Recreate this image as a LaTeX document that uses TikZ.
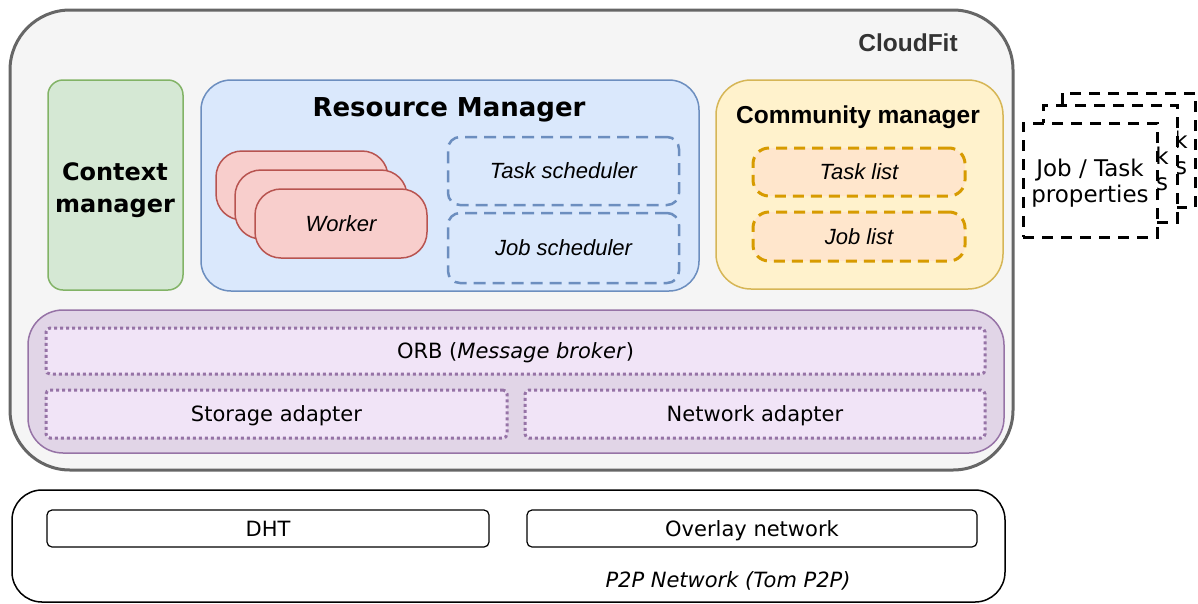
\documentclass[tikz,border=0pt]{standalone}
\usepackage{fontspec}
\setmainfont{DejaVu Sans}
\newfontfamily\lib{Liberation Sans}
\definecolor{outerfill}{HTML}{F5F5F5}
\definecolor{outerdraw}{HTML}{666666}
\definecolor{titlegray}{HTML}{333333}
\definecolor{gfill}{HTML}{D5E8D4}
\definecolor{gdraw}{HTML}{82B366}
\definecolor{bfill}{HTML}{DAE8FC}
\definecolor{bdraw}{HTML}{6C8EBF}
\definecolor{rfill}{HTML}{F8CECC}
\definecolor{rdraw}{HTML}{B85450}
\definecolor{yfill}{HTML}{FFF2CC}
\definecolor{ydraw}{HTML}{D6B656}
\definecolor{ofill}{HTML}{FFE6CC}
\definecolor{odraw}{HTML}{D79B00}
\definecolor{pfill}{HTML}{E1D5E7}
\definecolor{pdraw}{HTML}{9673A6}
\definecolor{plight}{HTML}{F1E4F7}
\tikzset{
  sz/.style 2 args={minimum width=#1, minimum height=#2, inner sep=0pt, outer sep=0pt},
  boxbase/.style={draw, rectangle, align=center},
  outerbox/.style={boxbase, draw=outerdraw, fill=outerfill, line width=3pt, rounded corners=60pt},
  ctxbox/.style={boxbase, draw=gdraw, fill=gfill, line width=1.5pt, rounded corners=15pt},
  resbox/.style={boxbase, draw=bdraw, fill=bfill, line width=1.5pt, rounded corners=30pt},
  workbox/.style={boxbase, draw=rdraw, fill=rfill, line width=1.5pt, rounded corners=26pt},
  schedbox/.style={boxbase, draw=bdraw, line width=2.5pt, dash pattern=on 12pt off 7pt, rounded corners=12pt},
  combox/.style={boxbase, draw=ydraw, fill=yfill, line width=1.5pt, rounded corners=35pt},
  listbox/.style={boxbase, draw=odraw, fill=ofill, line width=3pt, dash pattern=on 11pt off 7pt, rounded corners=16pt},
  orbouter/.style={boxbase, draw=pdraw, fill=pfill, line width=1.5pt, rounded corners=35pt},
  orbbox/.style={boxbase, draw=pdraw, fill=plight, line width=3pt, dash pattern=on 3pt off 3pt, rounded corners=4pt},
  p2pbox/.style={boxbase, draw=black, line width=1.5pt, rounded corners=30pt},
  p2pin/.style={boxbase, draw=black, fill=white, line width=1.2pt, rounded corners=5pt},
  propbox/.style={boxbase, draw=black, fill=white, line width=3pt, dash pattern=on 11pt off 8pt},
  boldlib/.style={font=\lib\bfseries\fontsize{24.5}{29}\selectfont, text depth=0pt},
  boldvj/.style={font=\bfseries\fontsize{24}{32}\selectfont, align=center},
  itlib/.style={font=\lib\itshape\fontsize{22}{26}\selectfont, text depth=0pt},
  plain/.style={font=\fontsize{21}{25}\selectfont, text depth=0pt},
  plainit/.style={font=\itshape\fontsize{21}{25}\selectfont, text depth=0pt},
  proptext/.style={font=\fontsize{23}{26}\selectfont, align=center, inner sep=0pt},
}
\begin{document}
\begin{tikzpicture}[x=1pt, y=-1pt]
\useasboundingbox (0,0) rectangle (1198,603);
% CloudFit container
\node[outerbox, sz={1003pt}{460pt}] (cloudfit) at (511.5,240) {};
\node[boldlib, text=titlegray] (cloudfitlbl) at (908,43) {CloudFit};
% Context manager
\node[ctxbox, sz={135pt}{210pt}] (ctx) at (115.5,185) {};
\node[boldvj] (ctxlbl) at (115,190) {Context\\manager};
% Resource manager
\node[resbox, sz={498pt}{211pt}] (res) at (450,185.5) {};
\node[font=\bfseries\fontsize{26}{30}\selectfont, text depth=0pt] (reslbl) at (449,107) {Resource Manager};
\node[workbox, sz={172pt}{69pt}] (w1) at (302,185.5) {};
\node[workbox, sz={172pt}{69pt}] (w2) at (321,204.5) {};
\node[workbox, sz={172pt}{69pt}, itlib] (w3) at (341,223.5) {Worker};
\node[schedbox, sz={231pt}{68pt}, itlib] (tsched) at (563.5,171) {Task scheduler};
\node[schedbox, sz={231pt}{70pt}, itlib] (jsched) at (563.5,248) {Job scheduler};
% Community manager
\node[combox, sz={287pt}{209pt}] (com) at (859.5,184.5) {};
\node[boldlib, text=black] (comlbl) at (858,115) {Community manager};
\node[listbox, sz={212pt}{48pt}, itlib] (tlist) at (859,172) {Task list};
\node[listbox, sz={212pt}{49pt}, itlib] (jlist) at (859,236.5) {Job list};
% ORB layer
\node[orbouter, sz={976pt}{143pt}] (orbl) at (516,381.5) {};
\node[orbbox, sz={939pt}{46pt}, plain] (orb) at (515.5,351) {ORB (\textit{Message broker})};
\node[orbbox, sz={461pt}{48pt}, plain] (stor) at (276.5,414) {Storage adapter};
\node[orbbox, sz={460pt}{48pt}, plain] (net) at (755,414) {Network adapter};
% P2P network
\node[p2pbox, sz={993pt}{112pt}] (p2p) at (508.5,546) {};
\node[p2pin, sz={442pt}{37pt}, plain] (dht) at (268,528.5) {DHT};
\node[p2pin, sz={450pt}{37pt}, plain] (overlay) at (752,528.5) {Overlay network};
\node[plainit] (p2plbl) at (728,580) {P2P Network (Tom P2P)};
% Job / Task properties stack
\node[propbox, sz={133pt}{114pt}] (prop3) at (1128.5,150) {};
\node[proptext] (prop3lbl) at (1181,153) {k\\s};
\node[propbox, sz={134pt}{117pt}] (prop2) at (1110,163.5) {};
\node[proptext] (prop2lbl) at (1162,169) {k\\s};
\node[propbox, sz={134pt}{114pt}] (prop1) at (1090,180) {};
\node[proptext] (prop1lbl) at (1090,183) {Job / Task\\properties};
\end{tikzpicture}
\end{document}
